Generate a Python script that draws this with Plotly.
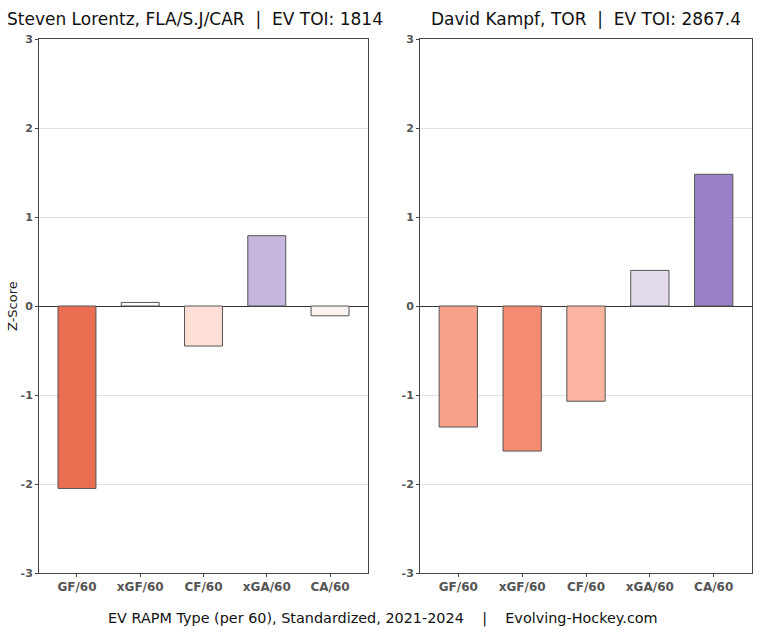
import plotly.graph_objects as go

categories = ["GF/60", "xGF/60", "CF/60", "xGA/60", "CA/60"]
lorentz_values = [-2.05, 0.04, -0.45, 0.79, -0.11]
kampf_values = [-1.36, -1.63, -1.07, 0.40, 1.48]
lorentz_colors = ["#EA6E51", "#FFFBFA", "#FEDED5", "#C6B6DD", "#FDF4F2"]
kampf_colors = ["#F9A189", "#F58B73", "#FCB5A1", "#E3DAEE", "#9A80C7"]
left_title = "Steven Lorentz, FLA/S.J/CAR  |  EV TOI: 1814"
right_title = "David Kampf, TOR  |  EV TOI: 2867.4"
caption = "EV RAPM Type (per 60), Standardized, 2021-2024    |    Evolving-Hockey.com"
y_ticks = [-3, -2, -1, 0, 1, 2, 3]
y_tick_text = ["-3", "-2", "-1", "0", "1", "2", "3"]

W, H = 768, 633
FONT = "DejaVu Sans"

fig = go.Figure()
fig.add_trace(go.Bar(x=categories, y=lorentz_values, marker=dict(color=lorentz_colors, line=dict(color="#555555", width=1)),
                     width=0.6, xaxis="x", yaxis="y", showlegend=False))
fig.add_trace(go.Bar(x=categories, y=kampf_values, marker=dict(color=kampf_colors, line=dict(color="#555555", width=1)),
                     width=0.6, xaxis="x2", yaxis="y2", showlegend=False))

def xax(domain, anchor):
    return dict(domain=domain, anchor=anchor, range=[-0.6, 4.6], showline=True, linecolor="#444444", linewidth=1,
                mirror=True, ticks="outside", ticklen=3, tickcolor="#444444", showgrid=False,
                tickfont=dict(family=FONT, size=12, color="#555555", weight="bold"), automargin=False)

def yax(domain, anchor):
    return dict(domain=domain, anchor=anchor, range=[-3, 3], tickvals=y_ticks, ticktext=y_tick_text, showline=True,
                linecolor="#444444", linewidth=1, mirror=True, ticks="outside", ticklen=3, tickcolor="#444444",
                showgrid=True, gridcolor="#E0E0E0", gridwidth=1, zeroline=True, zerolinecolor="#333333",
                zerolinewidth=1, tickfont=dict(family=FONT, size=11, color="#555555", weight="bold"), automargin=False)

ydom = [1 - 573 / H, 1 - 39 / H]
fig.update_layout(
    width=W, height=H, margin=dict(l=0, r=0, t=0, b=0), plot_bgcolor="white", paper_bgcolor="white",
    bargap=0.4,
    xaxis=xax([39 / W, 368 / W], "y"),
    yaxis=yax(ydom, "x"),
    xaxis2=xax([420 / W, 752 / W], "y2"),
    yaxis2=yax(ydom, "x2"),
    font=dict(family=FONT),
)
fig.add_annotation(text=left_title, x=195 / W, y=1 - 19 / H, xref="paper", yref="paper", showarrow=False,
                   font=dict(family=FONT, size=17, color="#111111"), xanchor="center", yanchor="middle")
fig.add_annotation(text=right_title, x=586 / W, y=1 - 19 / H, xref="paper", yref="paper", showarrow=False,
                   font=dict(family=FONT, size=17, color="#111111"), xanchor="center", yanchor="middle")
fig.add_annotation(text="Z-Score", x=12 / W, y=1 - 306 / H, xref="paper", yref="paper", showarrow=False,
                   textangle=-90, font=dict(family=FONT, size=13, color="#222222"), xanchor="center", yanchor="middle")
fig.add_annotation(text=caption, x=383 / W, y=1 - 618 / H, xref="paper", yref="paper", showarrow=False,
                   font=dict(family=FONT, size=14.4, color="#111111"), xanchor="center", yanchor="middle")

fig.write_html("out.html", config={"displayModeBar": False},
               post_script="document.body.style.margin='0';document.body.style.overflow='hidden';")
